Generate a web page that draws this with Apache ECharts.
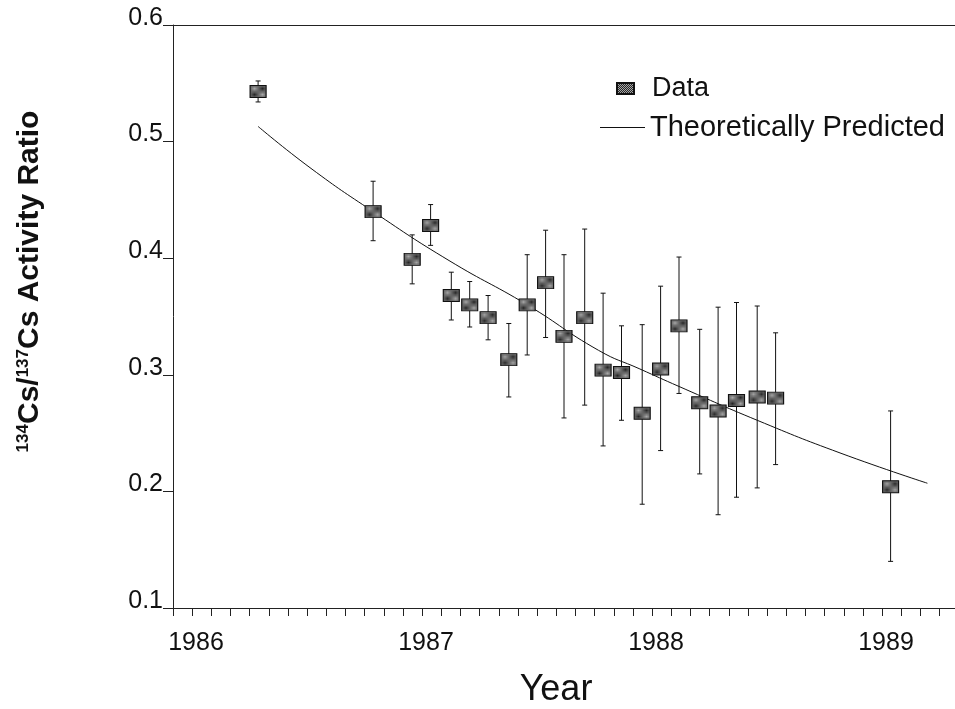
<!DOCTYPE html>
<html>
<head>
<meta charset="utf-8">
<script src="https://cdn.jsdelivr.net/npm/echarts@6/dist/echarts.min.js"></script>
<style>
  html, body { margin: 0; padding: 0; background: #fff; }
  #chart { width: 955px; height: 709px; }
</style>
</head>
<body>
<div id="chart"></div>
<script>
// measured points (decimal year)
const years = [1986.37, 1986.87, 1987.04, 1987.12, 1987.21, 1987.29, 1987.37, 1987.46,
  1987.54, 1987.62, 1987.70, 1987.79, 1987.87, 1987.95, 1988.04, 1988.12, 1988.20,
  1988.29, 1988.37, 1988.45, 1988.54, 1988.62, 1989.12];
const ratio = [0.543, 0.440, 0.399, 0.428, 0.368, 0.360, 0.349, 0.313,
  0.360, 0.379, 0.333, 0.349, 0.304, 0.302, 0.267, 0.305, 0.342,
  0.276, 0.269, 0.278, 0.281, 0.280, 0.204];
const errLow = [0.534, 0.415, 0.378, 0.411, 0.347, 0.341, 0.330, 0.281,
  0.317, 0.332, 0.263, 0.274, 0.239, 0.261, 0.189, 0.235, 0.284,
  0.215, 0.180, 0.195, 0.203, 0.223, 0.140];
const errHigh = [0.552, 0.466, 0.420, 0.446, 0.388, 0.380, 0.368, 0.344,
  0.403, 0.424, 0.403, 0.425, 0.370, 0.342, 0.343, 0.376, 0.401,
  0.339, 0.358, 0.362, 0.359, 0.336, 0.269];

// theoretical curve
const curveYears = [1986.37, 1986.6, 1986.87, 1987.2, 1987.54, 1987.85, 1988.03,
  1988.2, 1988.54, 1988.9, 1989.28];
const curveRatio = [0.513, 0.477, 0.440, 0.398, 0.360, 0.321, 0.305,
  0.290, 0.261, 0.233, 0.207];

const yTicks = ['0.1', '0.2', '0.3', '0.4', '0.5', '0.6'];

const FONT = 'Liberation Sans, Arial, Helvetica, sans-serif';

// dotted fill for the square markers
const pat = document.createElement('canvas');
pat.width = 2;
pat.height = 2;
const pctx = pat.getContext('2d');
pctx.fillStyle = '#262626';
pctx.fillRect(0, 0, 2, 2);
pctx.fillStyle = '#a6a6a6';
pctx.fillRect(0, 0, 1, 1);
pctx.fillRect(1, 1, 1, 1);
const markerFill = { image: pat, repeat: 'repeat' };

const chart = echarts.init(document.getElementById('chart'), null, { renderer: 'canvas' });

const option = {
  animation: false,
  backgroundColor: '#fff',
  grid: {
    left: 173, top: 25, right: 0, bottom: 101,
    containLabel: false,
    outerBoundsMode: 'none'
  },
  legend: [{
    data: [{ name: 'Data', icon: 'rect' }],
    orient: 'vertical',
    left: 611, top: 70,
    itemWidth: 17, itemHeight: 11,
    selectedMode: false,
    textStyle: { fontFamily: FONT, fontSize: 27, color: '#111', padding: [0, 0, 0, 13] }
  }, {
    data: [{ name: 'Theoretically Predicted', icon: 'rect' }],
    orient: 'vertical',
    left: 595, top: 108,
    itemWidth: 45, itemHeight: 1,
    selectedMode: false,
    textStyle: { fontFamily: FONT, fontSize: 29, color: '#111' }
  }],
  xAxis: [{
    type: 'value',
    min: 1986, max: 1989.4,
    interval: 1 / 12,
    name: 'Year',
    nameLocation: 'middle',
    nameGap: 64,
    nameMoveOverlap: false,
    nameTextStyle: { fontFamily: FONT, fontSize: 36, color: '#111', padding: [0, 16, 0, 0] },
    axisLine: { show: true, lineStyle: { color: '#222', width: 1 } },
    axisTick: { show: true, length: 8, lineStyle: { color: '#222' } },
    splitLine: { show: false },
    axisLabel: {
      fontFamily: FONT, fontSize: 25, color: '#111', margin: 23,
      padding: [0, 0, 0, 46],
      formatter: v => Math.abs(v - Math.round(v)) < 1e-6 ? String(Math.round(v)) : ''
    }
  }, {
    type: 'value',
    position: 'top',
    min: 1986, max: 1989.4,
    axisLine: { show: true, lineStyle: { color: '#222', width: 1 } },
    axisTick: { show: false },
    axisLabel: { show: false },
    splitLine: { show: false }
  }],
  yAxis: {
    type: 'value',
    min: 0.1, max: 0.6,
    interval: 0.1,
    name: '{sup|134}Cs/{sup|137}Cs Activity Ratio',
    nameLocation: 'middle',
    nameGap: 128,
    nameMoveOverlap: false,
    nameTextStyle: {
      fontFamily: FONT, fontSize: 30, fontWeight: 'bold', color: '#111',
      padding: [0, 0, 0, 70],
      rich: {
        sup: { fontFamily: FONT, fontSize: 17, fontWeight: 'bold', color: '#111', verticalAlign: 'top' }
      }
    },
    axisLine: { show: true, lineStyle: { color: '#222', width: 1 } },
    axisTick: { show: true, length: 10, lineStyle: { color: '#222' } },
    splitLine: { show: false },
    axisLabel: {
      fontFamily: FONT, fontSize: 25, color: '#111', margin: 10,
      verticalAlign: 'bottom',
      lineHeight: 14,
      formatter: v => yTicks[Math.round(v * 10) - 1] || ''
    }
  },
  series: [{
    type: 'custom',
    name: 'errors',
    silent: true,
    z: 2,
    data: years.map((y, i) => [y, errLow[i], errHigh[i]]),
    renderItem: function (params, api) {
      const lo = api.coord([api.value(0), api.value(1)]);
      const hi = api.coord([api.value(0), api.value(2)]);
      const cap = 2.5;
      const style = { stroke: '#111', lineWidth: 1 };
      return {
        type: 'group',
        children: [
          { type: 'line', shape: { x1: lo[0], y1: lo[1], x2: hi[0], y2: hi[1] }, style: style },
          { type: 'line', shape: { x1: hi[0] - cap, y1: hi[1], x2: hi[0] + cap, y2: hi[1] }, style: style },
          { type: 'line', shape: { x1: lo[0] - cap, y1: lo[1], x2: lo[0] + cap, y2: lo[1] }, style: style }
        ]
      };
    }
  }, {
    type: 'line',
    name: 'Theoretically Predicted',
    data: curveYears.map((y, i) => [y, curveRatio[i]]),
    smooth: true,
    symbol: 'none',
    z: 3,
    lineStyle: { color: '#111', width: 1 },
    itemStyle: { color: '#111' }
  }, {
    type: 'scatter',
    name: 'Data',
    data: years.map((y, i) => [y, ratio[i]]),
    symbol: 'rect',
    symbolSize: [16, 12],
    z: 4,
    itemStyle: { color: markerFill, borderColor: '#111', borderWidth: 1, opacity: 1 }
  }]
};

chart.setOption(option);
</script>
</body>
</html>
